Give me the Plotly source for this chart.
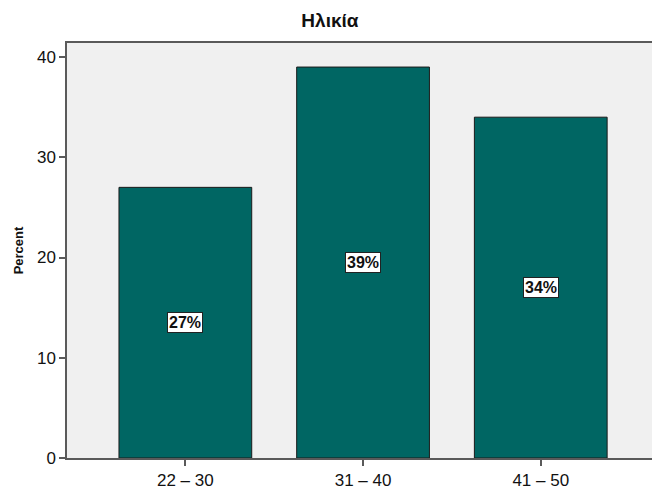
import plotly.graph_objects as go

# Age groups and their share of respondents (%)
age_groups = ["22 – 30", "31 – 40", "41 – 50"]
percent = [27, 39, 34]
value_labels = ["27%", "39%", "34%"]

title_text = "Ηλικία"
y_title = "Percent"
y_ticks = [0, 10, 20, 30, 40]

bar_fill = "#006663"
font_family = "Liberation Sans, Arial, sans-serif"

fig = go.Figure(
    go.Bar(
        x=age_groups,
        y=percent,
        width=0.747,
        marker=dict(color=bar_fill, line=dict(color="#1a1a1a", width=1)),
        hoverinfo="skip",
    )
)

# Percentage boxes at mid-height of each bar
for cat, val, lab in zip(age_groups, percent, value_labels):
    fig.add_annotation(
        x=cat, y=val / 2, text=f"<b>{lab}</b>", showarrow=False,
        font=dict(family=font_family, size=16, color="#111111"),
        bgcolor="white", bordercolor="#222222", borderwidth=1, borderpad=1,
    )

fig.update_layout(
    width=652, height=492,
    margin=dict(l=67, r=0, t=43, b=34),
    paper_bgcolor="white",
    plot_bgcolor="#F0F0F0",
    showlegend=False,
    font=dict(family=font_family, color="#111111"),
    title=dict(
        text=f"<b>{title_text}</b>", x=0.506, xanchor="center",
        y=0.958, yanchor="middle",
        font=dict(family=font_family, size=19, color="#111111"),
    ),
    xaxis=dict(
        type="category", range=[-0.666, 2.626],
        showgrid=False, zeroline=False,
        showline=True, linecolor="#5a5a5a", linewidth=1.5, mirror=True,
        ticks="outside", ticklen=6, tickcolor="#5a5a5a", tickwidth=1.5,
        tickfont=dict(family=font_family, size=17, color="#111111"),
    ),
    yaxis=dict(
        range=[0, 41.4], tickvals=y_ticks,
        showgrid=False, zeroline=False,
        showline=True, linecolor="#5a5a5a", linewidth=1.5, mirror=False,
        ticks="outside", ticklen=6, tickcolor="#5a5a5a", tickwidth=1.5,
        tickfont=dict(family=font_family, size=17, color="#111111"),
        title=dict(text=f"<b>{y_title}</b>", standoff=10,
                   font=dict(family=font_family, size=13, color="#111111")),
    ),
)

fig.write_html("out.html")
